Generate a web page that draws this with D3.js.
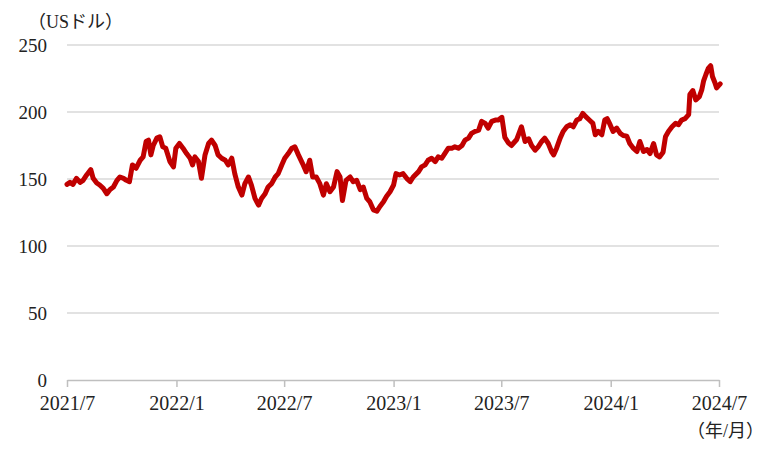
<!DOCTYPE html>
<html><head><meta charset="utf-8">
<script src="https://cdn.jsdelivr.net/npm/d3@7"></script>
<style>
html,body{margin:0;padding:0;background:#fff;}
svg text{font-family:"Liberation Serif","Noto Sans CJK JP",serif;fill:#222;}
</style></head>
<body>
<svg id="chart" width="780" height="451"></svg>
<script>
// ---- data ----
const startDate = "2021-07-01";
const dayOffsets = [0,5,10,16,22,27,33,40,44,50,55,61,67,72,78,84,89,95,100,105,110,116,123,128,133,137,141,145,151,156,161,166,173,179,183,189,195,201,207,211,215,221,226,232,238,243,249,254,260,266,271,277,282,288,294,299,305,310,316,322,327,333,338,344,350,355,361,366,372,378,383,389,396,402,408,413,419,425,431,436,442,448,454,459,463,469,476,481,487,493,498,504,509,515,521,526,532,537,543,549,553,559,565,571,577,582,591,596,602,607,613,619,624,630,635,641,647,652,658,664,669,675,680,686,692,697,703,708,714,720,725,731,736,742,747,756,764,770,776,781,787,792,798,803,809,815,818,823,829,834,840,846,851,857,862,867,872,878,884,888,893,899,904,908,913,918,924,930,935,941,946,952,958,963,969,975,980,986,991,996,1002,1006,1011,1017,1023,1028,1033,1039,1045,1047,1052,1057,1063,1067,1070,1074,1078,1082,1085,1089,1092,1098];
const prices = [146,147.5,146,150.5,147.5,149,153,157,150.5,147,145.5,143,139,142,144,149,151.5,150.5,149,148,160.5,158,164,166.5,178,179,168,175,180.5,181.5,174,173,163,159,173,176.5,173,169,165.5,160.5,166.5,163,150.5,168,176.5,179,175,168,165.5,164,160.5,165.5,154,144,138,146.5,151.5,145.5,135.5,130.5,135.5,139,144,146.5,151.5,154,160.5,165.5,169,173,174,168,161.5,155.5,164,151.5,151.5,146.5,138,146.5,140.5,144,155.5,151.5,134,149,151.5,148,149,142,144,135.5,133,127,126,129.5,133,137,140.5,145.5,154,153,154,150.5,148,151.5,155.5,159,160.5,164,165.5,163,166.5,165.5,169,173,173,174,173,175,179,180.5,184,185.5,186.5,193,191.5,188,193,194,194,196,181,177,175,179.5,189,178,180,175,171.5,174,178,180.5,176.5,170,168,173,180.5,185.5,189,190.5,189,194,195,199,196.5,194,191.5,183,185.5,183,194,195,190.5,185.5,188,184,182.5,182,176.5,173,170.5,178,170.5,172,169,176.5,168,166.5,170,181.5,185.5,189,191.5,190.5,194,195,198,213,216,209,211.5,216.5,223,228,232.5,234.5,226.5,222,218,221];
const xTickLabels = ["2021/7","2022/1","2022/7","2023/1","2023/7","2024/1","2024/7"];
const yTicks = [0,50,100,150,200,250];
const yUnit = "（USドル）";
const xUnit = "（年/月）";

// ---- chart ----
const svg = d3.select("#chart");
const parse = d3.timeParse("%Y/%m");
const start = d3.timeParse("%Y-%m-%d")(startDate);
const data = dayOffsets.map((d,i)=>({date:d3.timeDay.offset(start,d), v:prices[i]}));
const tickDates = xTickLabels.map(parse);

const x = d3.scaleTime().domain([tickDates[0], tickDates[tickDates.length-1]]).range([67,719]);
const y = d3.scaleLinear().domain([0,250]).range([380,45]);

// gridlines
svg.append("g").selectAll("line").data(yTicks.filter(t=>t>0)).join("line")
  .attr("x1",x.range()[0]).attr("x2",x.range()[1])
  .attr("y1",d=>y(d)).attr("y2",d=>y(d))
  .attr("stroke","#d9d9d9").attr("stroke-width",1.5);

// y labels
svg.append("g").selectAll("text").data(yTicks).join("text")
  .attr("x",47).attr("y",d=>y(d)).attr("dy","0.35em")
  .attr("text-anchor","end").attr("font-size",19).text(d=>d);

// x axis
const xAxis = d3.axisBottom(x).tickValues(tickDates).tickFormat((d,i)=>xTickLabels[i]).tickSizeInner(7).tickSizeOuter(0).tickPadding(9);
const gx = svg.append("g").attr("transform",`translate(0,${y(0)})`).call(xAxis);
gx.select(".domain").attr("stroke","#bfbfbf").attr("stroke-width",1.5);
gx.selectAll(".tick line").attr("stroke","#bfbfbf").attr("stroke-width",1.5);
gx.selectAll(".tick text").attr("font-size",20).attr("fill","#222")
  .style("font-family",'"Liberation Serif","Noto Sans CJK JP",serif');

// line
const line = d3.line().x(d=>x(d.date)).y(d=>y(d.v)).curve(d3.curveLinear);
svg.append("path").datum(data).attr("d",line)
  .attr("fill","none").attr("stroke","#c00000").attr("stroke-width",5)
  .attr("stroke-linejoin","round").attr("stroke-linecap","round");

// unit labels
svg.append("text").attr("x",28).attr("y",28).attr("font-size",18).text(yUnit);
svg.append("text").attr("x",764).attr("y",437).attr("text-anchor","end").attr("font-size",18).text(xUnit);
</script>
</body></html>
